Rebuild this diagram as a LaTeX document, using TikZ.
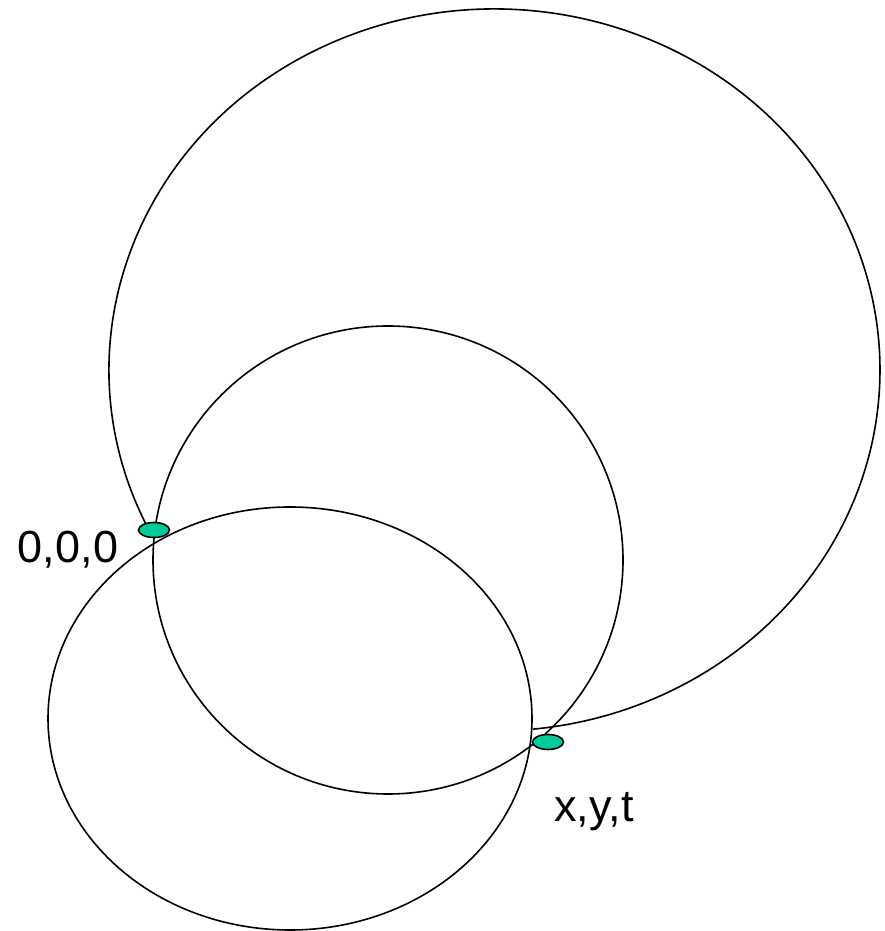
\documentclass[tikz,border=0pt]{standalone}
\usepackage{fontspec}
\setmainfont{Liberation Sans}
\usetikzlibrary{shapes.geometric}
\definecolor{dotgreen}{RGB}{0,204,153}
\begin{document}
\begin{tikzpicture}[x=1pt,y=1pt,
  curve/.style={draw=black,line width=1.6pt},
  dot/.style={ellipse,draw=black,line width=1.6pt,fill=dotgreen,minimum width=31pt,minimum height=15pt,inner sep=0pt},
  lbl/.style={font=\fontsize{45}{52}\selectfont,anchor=base,inner sep=0pt}]
\useasboundingbox (0,0) rectangle (885,931);
% lower ellipse
\draw[curve] (290,212.5) ellipse [x radius=242, y radius=211.5];
% middle circle
\draw[curve] (388,371) ellipse [x radius=235, y radius=234];
% big arc
\draw[curve] ([shift={(205.3:385.5 and 361)}]494.5,561) arc[start angle=205.3, end angle=-84.3, x radius=385.5, y radius=361];
% points
\node[dot] (origin) at (154,401) {};
\node[dot] (event) at (548,189) {};
% labels
\node[lbl] (lo) at (68,368) {0,0,0};
\node[lbl] (le) at (594,109) {x,y,t};
\end{tikzpicture}
\end{document}
